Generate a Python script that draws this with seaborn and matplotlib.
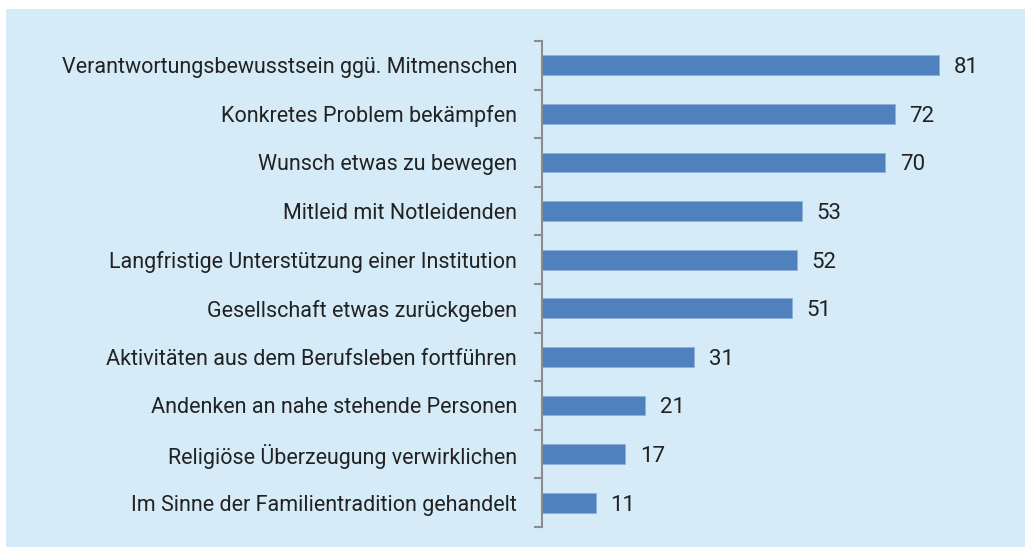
import numpy as np
import pandas as pd
import seaborn as sb
from matplotlib import pyplot as plt

# motive categories (top to bottom) and share in percent
categories = [
    "Verantwortungsbewusstsein ggü. Mitmenschen",
    "Konkretes Problem bekämpfen",
    "Wunsch etwas zu bewegen",
    "Mitleid mit Notleidenden",
    "Langfristige Unterstützung einer Institution",
    "Gesellschaft etwas zurückgeben",
    "Aktivitäten aus dem Berufsleben fortführen",
    "Andenken an nahe stehende Personen",
    "Religiöse Überzeugung verwirklichen",
    "Im Sinne der Familientradition gehandelt",
]
values = [81, 72, 70, 53, 52, 51, 31, 21, 17, 11]

bg = "#D6EBF8"
bar_color = "#4F81BD"
axis_gray = "#8C8C8C"

sb.set_style("white")
plt.rcParams['font.family'] = ['Roboto', 'DejaVu Sans']

df = pd.DataFrame({"motiv": categories, "wert": values})

fig = plt.figure(figsize=(10.25, 5.47), dpi=100)
fig.patch.set_facecolor("white")
# light blue panel behind the chart
fig.patches.append(plt.Rectangle((6 / 1025, 0), 1, 1 - 9 / 547, transform=fig.transFigure,
                                 facecolor=bg, edgecolor="none", zorder=-1))

ax = fig.add_axes([542 / 1025, 1 - 527 / 547, (983 - 542) / 1025, (527 - 41) / 547])
ax.set_facecolor("none")

sb.barplot(data=df, y="motiv", x="wert", orient="h", color=bar_color, saturation=1,
           width=0.41, ax=ax, edgecolor="#8FB0DA", linewidth=0.6)

ax.set_xlim(0, 90)
ax.set_ylim(len(categories) - 0.5, -0.5)
ax.set_xlabel("")
ax.set_ylabel("")
ax.set_xticks([])

for s in ["top", "right", "bottom"]:
    ax.spines[s].set_visible(False)
ax.spines["left"].set_color(axis_gray)
ax.spines["left"].set_linewidth(1.5)

# ticks sit between categories
ax.set_yticks(np.arange(-0.5, len(categories)), minor=True)
ax.tick_params(axis="y", which="minor", left=True, length=6, width=1.5, color=axis_gray, direction="out")
ax.tick_params(axis="y", which="major", left=False, length=0, pad=18, labelsize=15.5, labelcolor="#222222")

for i, v in enumerate(values):
    ax.text(v + 3, i, str(v), va="center_baseline", ha="left", fontsize=16, color="#222222")

plt.savefig("out.png", dpi=100, facecolor=fig.get_facecolor())
